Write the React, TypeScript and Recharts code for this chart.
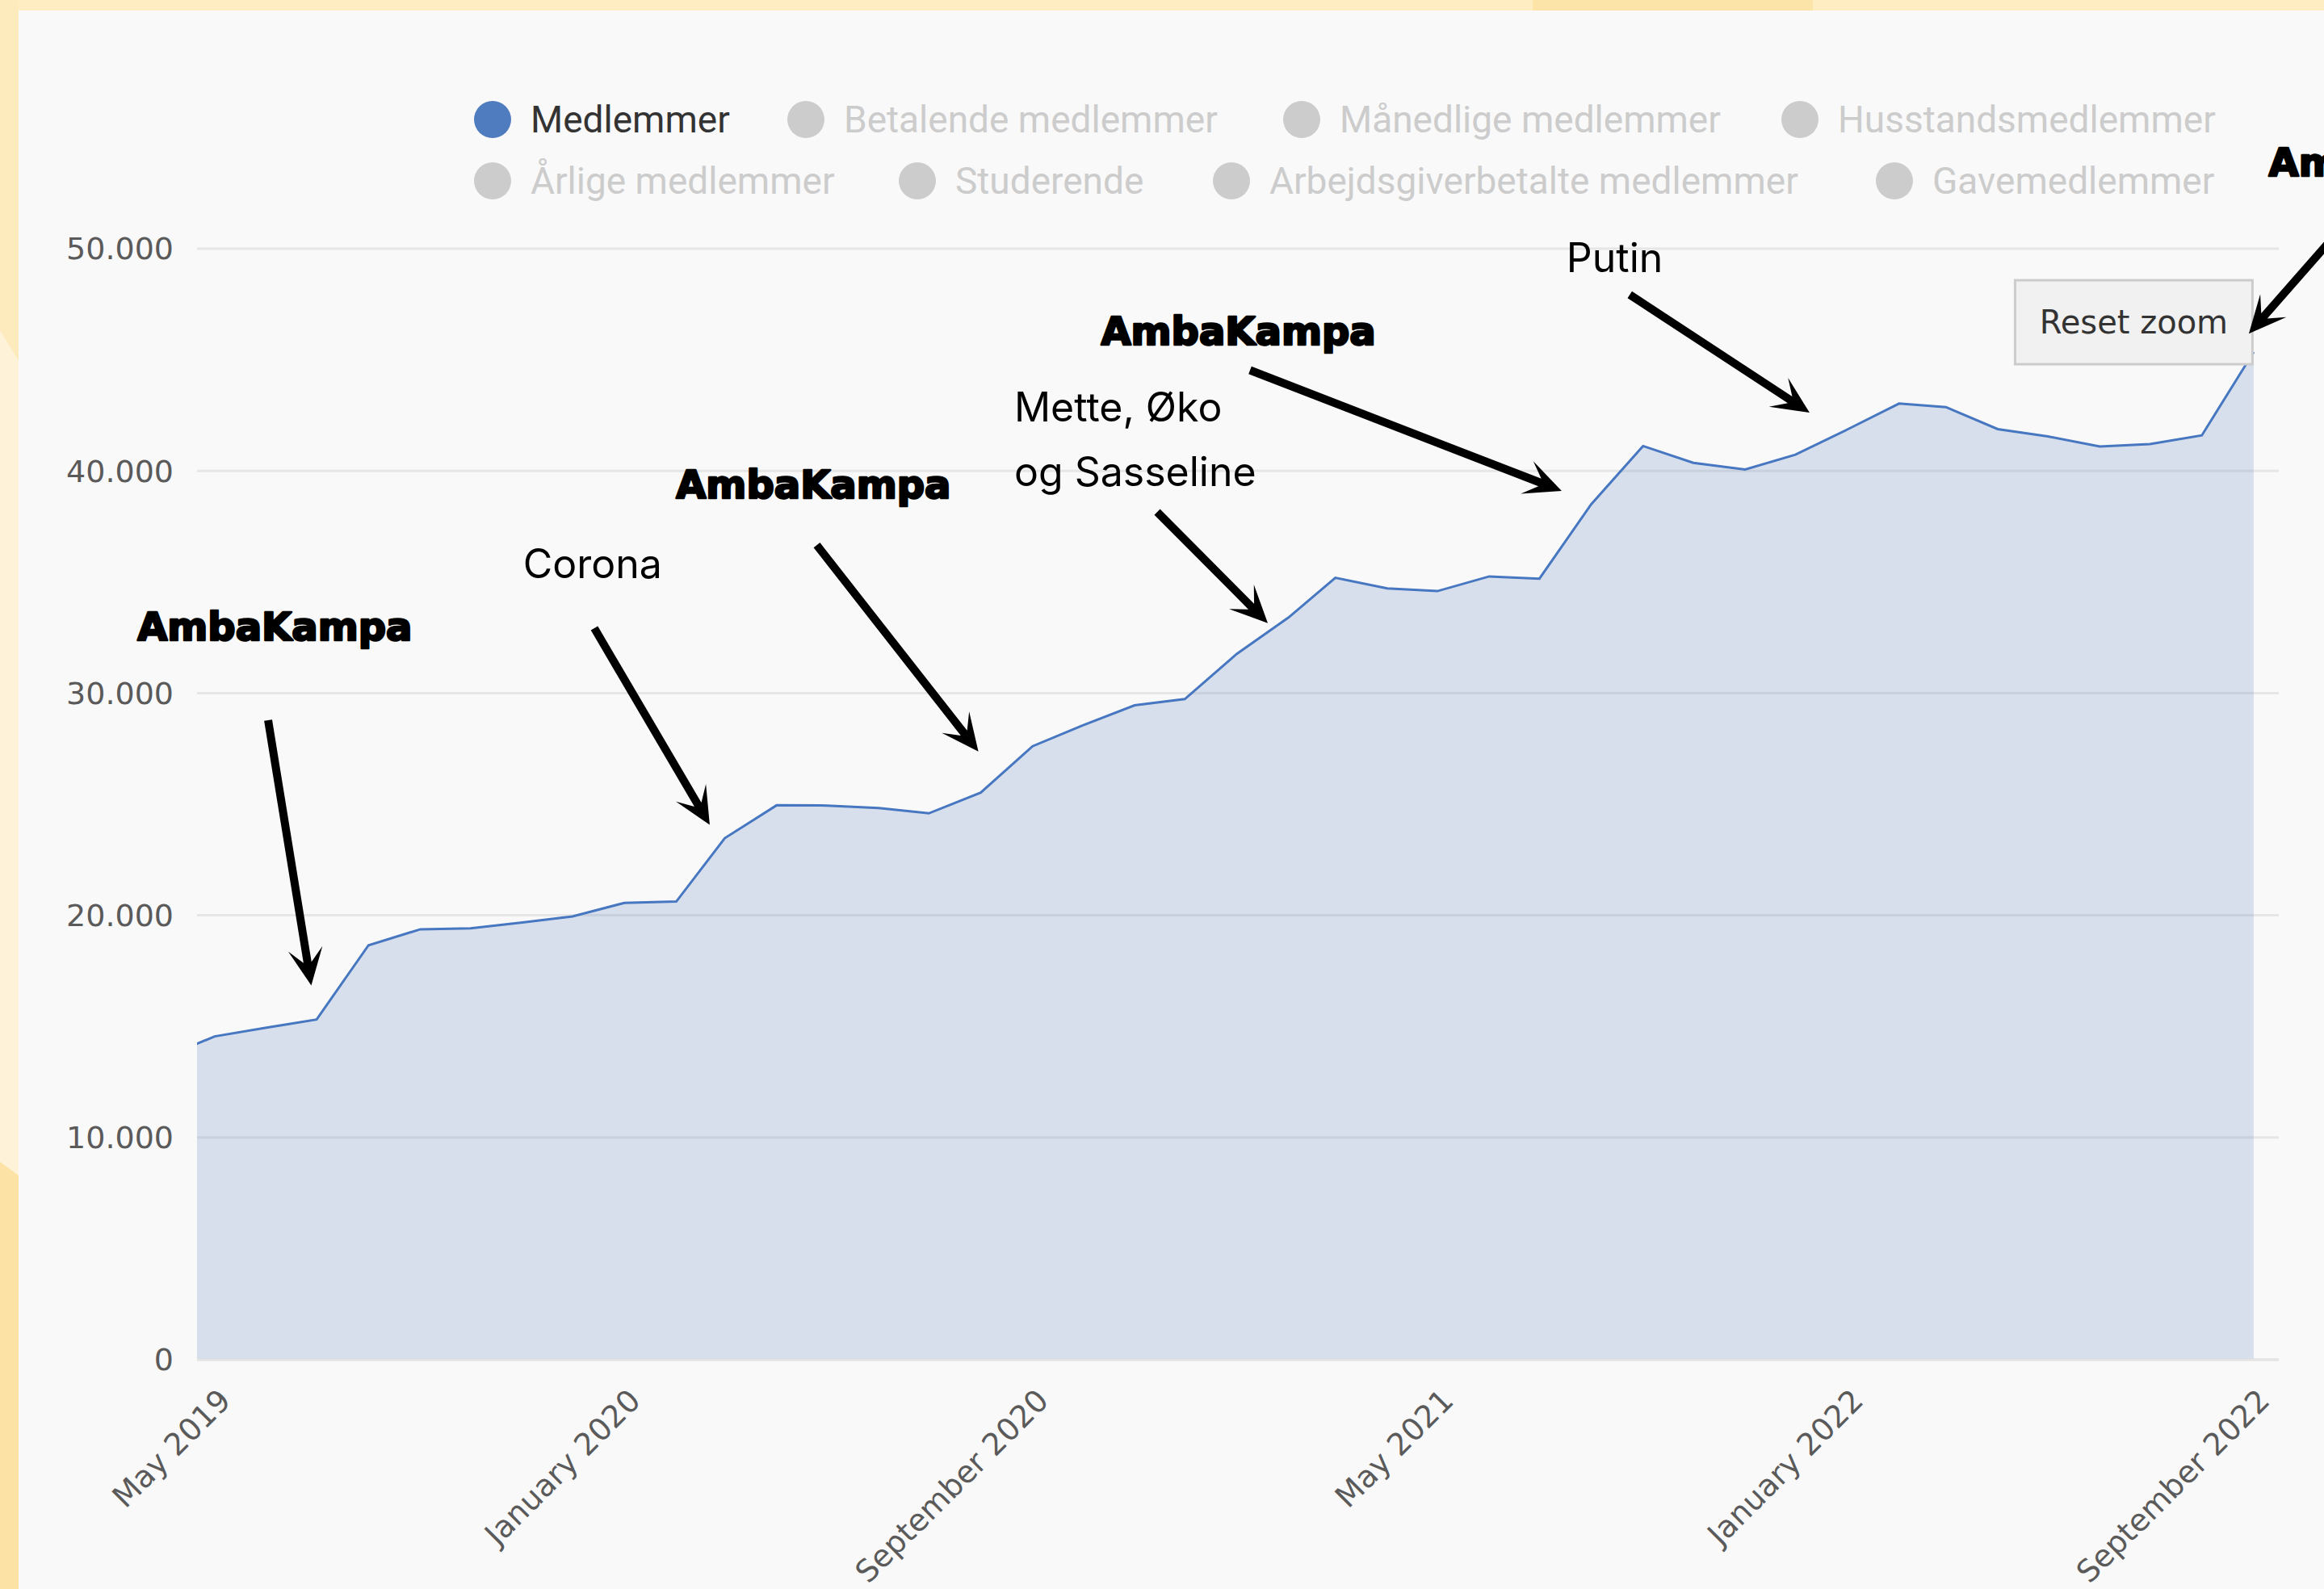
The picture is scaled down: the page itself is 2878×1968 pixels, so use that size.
import React from "react";
import { AreaChart, Area, XAxis, YAxis, CartesianGrid, ReferenceLine, ReferenceDot } from "recharts";

// monthly member counts, first of each month (April 2019 sits just left of the zoomed window)
const months = [
  "2019-04", "2019-05", "2019-06", "2019-07", "2019-08", "2019-09", "2019-10", "2019-11", "2019-12",
  "2020-01", "2020-02", "2020-03", "2020-04", "2020-05", "2020-06", "2020-07", "2020-08", "2020-09",
  "2020-10", "2020-11", "2020-12", "2021-01", "2021-02", "2021-03", "2021-04", "2021-05", "2021-06",
  "2021-07", "2021-08", "2021-09", "2021-10", "2021-11", "2021-12", "2022-01", "2022-02", "2022-03",
  "2022-04", "2022-05", "2022-06", "2022-07", "2022-08", "2022-09",
];
const members = [
  13600, 14550, 14940, 15310, 18650, 19370, 19410, 19680, 19950,
  20560, 20620, 23470, 24950, 24940, 24830, 24590, 25520, 27610,
  28550, 29450, 29730, 31760, 33400, 35190, 34710, 34590, 35250,
  35150, 38500, 41120, 40360, 40060, 40730, 41860, 43030, 42870,
  41880, 41550, 41100, 41210, 41600, 45350,
];

const tickMonths = ["2019-05", "2020-01", "2020-09", "2021-05", "2022-01", "2022-09"];
const tickLabels = ["May 2019", "January 2020", "September 2020", "May 2021", "January 2022", "September 2022"];
const yTicks = [0, 10000, 20000, 30000, 40000, 50000];

const legendNames = [
  "Medlemmer", "Betalende medlemmer", "Månedlige medlemmer", "Husstandsmedlemmer",
  "Årlige medlemmer", "Studerende", "Arbejdsgiverbetalte medlemmer", "Gavemedlemmer",
];
const legendActive = [true, false, false, false, false, false, false, false];

// annotations, in chart units: days since 1 May 2019 / members
const noteTexts = ["AmbaKampa", "Corona", "AmbaKampa", "Mette, Øko\nog Sasseline", "AmbaKampa", "Putin", "AmbaKampa"];
const noteBold = [true, false, true, false, true, false, true];
const noteAnchor = ["middle", "middle", "middle", "start", "middle", "middle", "start"];
const noteX = [36, 226, 358, 478, 612, 837, 1228];
const noteY = [32380, 35170, 38770, 42240, 45680, 48950, 53270];
const arrowFrom = [[32, 28780], [227, 32920], [360, 36660], [563.5, 38150], [619, 44530], [846, 47930], [1300, 53380]];
const arrowTo = [[57.8, 16840], [296, 24070], [456.6, 27370], [629.6, 33150], [805.3, 39100], [953.5, 42620], [1216.1, 46180]];
const resetAt = [1147.3, 46690];

const START = Date.UTC(2019, 4, 1);
const day = (m: string) => {
  const [y, mo] = m.split("-").map(Number);
  return (Date.UTC(y, mo - 1, 1) - START) / 86400000;
};
const rows = months.map((m, i) => ({ day: day(m), members: members[i] }));
const tickDays = tickMonths.map(day);
const fmt = (v: number) => String(v).replace(/\B(?=(\d{3})+(?!\d))/g, ".");

const XTick = ({ x, y, payload }: any) => {
  const tx = x + 22;
  const ty = y + 53;
  return (
    <text x={tx} y={ty} transform={`rotate(-45 ${tx} ${ty})`} textAnchor="end" fill="#5A5A5A" fontSize={38} fontFamily="DejaVu Sans">
      {tickLabels[tickDays.indexOf(payload.value)]}
    </text>
  );
};

const Arrow = (p: any) => {
  const { x1, y1, x2, y2 } = p;
  const len = Math.hypot(x2 - x1, y2 - y1);
  const ux = (x2 - x1) / len, uy = (y2 - y1) / len;
  const nx = -uy, ny = ux;
  const w = 5, head = 46, notch = 29, half = 21.5;
  const bx = x2 - ux * head, by = y2 - uy * head;
  const kx = x2 - ux * notch, ky = y2 - uy * notch;
  const pts = [
    [x1 + nx * w, y1 + ny * w], [kx + nx * w, ky + ny * w], [bx + nx * half, by + ny * half],
    [x2, y2],
    [bx - nx * half, by - ny * half], [kx - nx * w, ky - ny * w], [x1 - nx * w, y1 - ny * w],
  ];
  return <polygon points={pts.map((q) => q.join(",")).join(" ")} fill="#000" />;
};

const Note = ({ cx, cy, i }: any) => {
  const bold = noteBold[i];
  return (
    <text
      x={cx} y={cy} textAnchor={noteAnchor[i]} fill="#000"
      fontFamily={bold ? "DejaVu Sans" : "Inter"} fontWeight={bold ? 700 : 400} fontSize={bold ? 48 : 50}
      stroke={bold ? "#000" : "none"} strokeWidth={bold ? 2.6 : 0} strokeLinejoin="round"
    >
      {noteTexts[i].split("\n").map((l, j) => (
        <tspan key={j} x={cx} dy={j === 0 ? 0 : 80}>{l}</tspan>
      ))}
    </text>
  );
};

const ResetButton = ({ cx, cy }: any) => (
  <g>
    <rect x={cx - 147} y={cy - 52} width={294} height={104} fill="#F1F1F1" stroke="#CCCCCC" strokeWidth={3} />
    <text x={cx} y={cy} dy="0.36em" textAnchor="middle" fill="#333" fontSize={40} fontFamily="DejaVu Sans">Reset zoom</text>
  </g>
);

const legendPos = [[610, 148], [998, 148], [1612, 148], [2229, 148], [610, 224], [1136, 224], [1525, 224], [2346, 224]];

export default function App() {
  return (
    <div style={{ position: "absolute", left: 0, top: 0, width: 2878, height: 1968, overflow: "hidden", background: "#FEEDC2" }}>
      <div style={{ position: "absolute", left: 1898, top: 0, width: 347, height: 13, background: "#FCE4A9" }} />
      <div style={{ position: "absolute", left: 0, top: 0, width: 23, height: 1968, background: "#FDEBBD" }} />
      <div style={{ position: "absolute", left: 0, top: 0, width: 23, height: 1968, background: "#FEF2D8", clipPath: "polygon(0 409px, 23px 447px, 23px 1456px, 0 1439px)" }} />
      <div style={{ position: "absolute", left: 0, top: 0, width: 23, height: 1968, background: "#FCE3A5", clipPath: "polygon(0 1439px, 23px 1456px, 23px 1968px, 0 1968px)" }} />
      <div style={{ position: "absolute", left: 23, top: 13, right: 0, bottom: 0, background: "#F9F9F9" }} />

      {legendNames.map((name, i) => (
        <div
          key={name}
          style={{
            position: "absolute", left: legendPos[i][0] - 23, top: legendPos[i][1] - 30, height: 60,
            display: "flex", alignItems: "center", whiteSpace: "nowrap",
            fontFamily: "Roboto", fontSize: 46, lineHeight: 1, color: legendActive[i] ? "#333333" : "#CCCCCC",
          }}
        >
          <span style={{ width: 46, height: 46, borderRadius: 23, background: legendActive[i] ? "#4F7CBF" : "#CCCCCC" }} />
          <span style={{ marginLeft: 24 }}>{name}</span>
        </div>
      ))}

      <div style={{ position: "absolute", left: 0, top: 0 }}>
        <AreaChart width={2878} height={1968} data={rows} margin={{ top: 308, right: 56, bottom: 84, left: 44 }}>
          <CartesianGrid vertical={false} stroke="#E6E6E6" strokeWidth={3} />
          <XAxis
            dataKey="day" type="number" domain={[-10.5, 1234]} allowDataOverflow ticks={tickDays} interval={0}
            height={200} tickSize={0} tickMargin={0} tickLine={false} axisLine={{ stroke: "#E4E4E4", strokeWidth: 3 }}
            tick={<XTick />}
          />
          <YAxis
            type="number" domain={[0, 50000]} ticks={yTicks} width={200} tickSize={0} tickMargin={29}
            axisLine={false} tickLine={false} tickFormatter={fmt}
            tick={{ fill: "#5A5A5A", fontSize: 38, fontFamily: "DejaVu Sans" }}
          />
          <Area
            type="linear" dataKey="members" stroke="#4677C0" strokeWidth={3} fill="#5079BC" fillOpacity={0.2}
            dot={false} activeDot={false} isAnimationActive={false}
          />
          <ReferenceDot x={resetAt[0]} y={resetAt[1]} ifOverflow="visible" zIndex={700} shape={(p: any) => <ResetButton cx={p.cx} cy={p.cy} />} />
          {arrowFrom.map((a, i) => (
            <ReferenceLine
              key={`a${i}`} ifOverflow="visible" zIndex={800}
              segment={[{ x: a[0], y: a[1] }, { x: arrowTo[i][0], y: arrowTo[i][1] }]}
              shape={(p: any) => <Arrow {...p} />}
            />
          ))}
          {noteTexts.map((t, i) => (
            <ReferenceDot
              key={`n${i}`} x={noteX[i]} y={noteY[i]} ifOverflow="visible" zIndex={800}
              shape={(p: any) => <Note cx={p.cx} cy={p.cy} i={i} />}
            />
          ))}
        </AreaChart>
      </div>
    </div>
  );
}
